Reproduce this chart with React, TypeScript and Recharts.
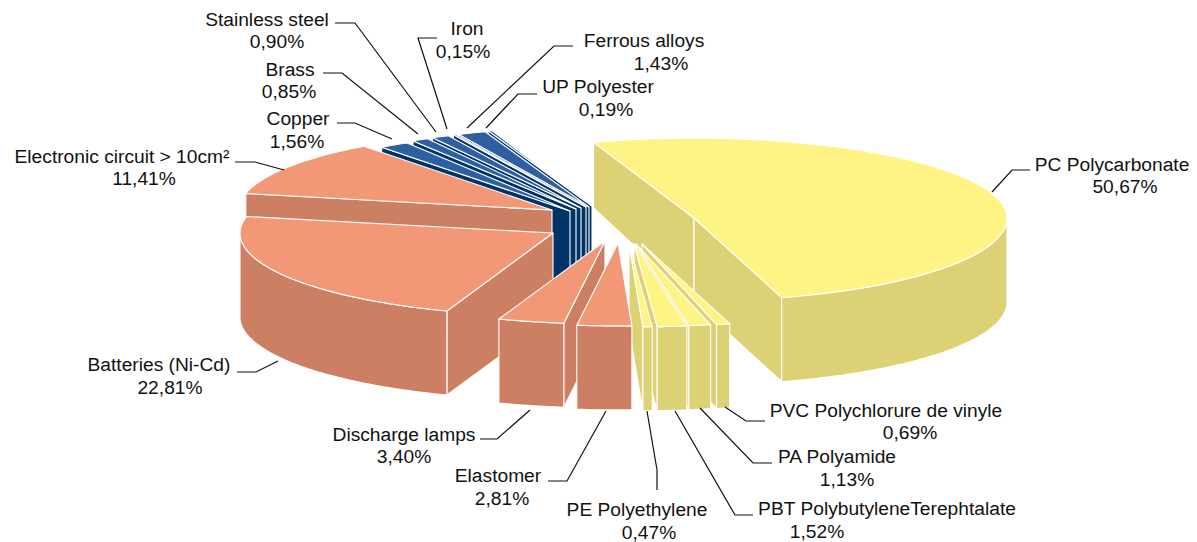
import React from 'react';
import { PieChart, Pie } from 'recharts';

const sliceNames = [
  'PC Polycarbonate', 'PVC Polychlorure de vinyle', 'PA Polyamide', 'PBT PolybutyleneTerephtalate',
  'PE Polyethylene', 'Elastomer', 'Discharge lamps', 'Batteries (Ni-Cd)', 'Electronic circuit > 10cm²',
  'Copper', 'Brass', 'Stainless steel', 'Iron', 'Ferrous alloys', 'UP Polyester',
];
const sliceValues = [50.67, 0.69, 1.13, 1.52, 0.47, 2.81, 3.4, 22.81, 11.41, 1.56, 0.85, 0.9, 0.15, 1.43, 0.19];
const sliceGroups = ['plastic', 'plastic', 'plastic', 'plastic', 'plastic', 'electro', 'electro', 'electro', 'electro', 'metal', 'metal', 'metal', 'metal', 'metal', 'metal'];

// back to front, svg has no z-index
const drawOrder = [14, 13, 12, 11, 10, 9, 0, 8, 7, 1, 2, 3, 4, 6, 5];

// how far each slice is pulled out of the pie
const explodeX = [104, 52, 46, 44, 39, 28, 15, -37, -38, -20, -14, -9, -4, -1, 2];
const explodeY = [-7, 19, 19, 19, 19, 18, 16, 8, -15, -14, -16, -17, -18, -18, -19];

const COLORS: Record<string, { top: string; wall: string }> = {
  plastic: { top: '#fff385', wall: '#dcd174' },
  electro: { top: '#f29877', wall: '#cc7f62' },
  metal: { top: '#2e5fa3', wall: '#003366' },
};

const TILT_BACK = 0.255;
const TILT_FRONT = 0.265;
// walls get shorter towards the back of the pie
const wallDepth = (y: number) => (y >= 220 ? 84 : 84 - (220 - y) * 0.24);

// text anchor x, baseline of both rows, leader points
const labelLayout = [
  { x: 1112, y: 171, x2: 1125, y2: 193, line: '1030,170 1012,170 992,192' },
  { x: 886, y: 417, x2: 910, y2: 439, line: '765,421 746,421 725,407' },
  { x: 837, y: 463, x2: 847, y2: 486, line: '772,463 753,463 700,408' },
  { x: 887, y: 515, x2: 817, y2: 538, line: '753,515 735,515 675,411' },
  { x: 637, y: 516, x2: 649, y2: 539, line: '657,490 657,470 647,411' },
  { x: 498, y: 482, x2: 502, y2: 505, line: '548,481 567,481 606,411' },
  { x: 404, y: 441, x2: 404, y2: 463, line: '480,439 497,439 530,410' },
  { x: 159, y: 371, x2: 170, y2: 394, line: '237,372 256,372 278,361' },
  { x: 122, y: 163, x2: 144, y2: 185, line: '235,162 255,162 284,170' },
  { x: 298, y: 125, x2: 297, y2: 148, line: '337,123 355,123 392,139' },
  { x: 290, y: 76, x2: 289, y2: 98, line: '323,73 342,73 418,134' },
  { x: 267, y: 26, x2: 277, y2: 48, line: '335,23 355,23 436,132' },
  { x: 467, y: 35, x2: 463, y2: 58, line: '437,38 418,38 447,129' },
  { x: 644, y: 47, x2: 661, y2: 70, line: '573,46 554,46 467,128' },
  { x: 598, y: 93, x2: 606, y2: 116, line: '537,94 518,94 486,128' },
];

const tableData = sliceNames.map((name, i) => ({ name, value: sliceValues[i], group: sliceGroups[i] }));

const toPath = (pts: number[][]) => 'M' + pts.map(p => p[0].toFixed(1) + ',' + p[1].toFixed(1)).join('L') + 'Z';
const dropped = (p: number[]) => [p[0], p[1] + wallDepth(p[1])];

const renderSlice = (target: number) => (props: any) => {
  const i = sliceNames.indexOf(props.name);
  if (i !== target) return <g />;
  const { cx, cy, outerRadius: r, startAngle, endAngle } = props;
  const ax = cx + explodeX[i];
  const ay = cy + explodeY[i];
  const apex = [ax, ay];
  const at = (deg: number) => {
    const a = (deg * Math.PI) / 180;
    const s = Math.sin(a);
    return [ax + r * Math.cos(a), ay - (s > 0 ? TILT_BACK : TILT_FRONT) * r * s];
  };
  const hi = Math.max(startAngle, endAngle);
  const lo = Math.min(startAngle, endAngle);
  const steps = Math.max(2, Math.ceil(hi - lo));
  const arc: number[] = [];
  for (let s = 0; s <= steps; s++) arc.push(hi - ((hi - lo) * s) / steps);
  const rim = arc.map(at);

  // only the front half of the rim can be seen, sin(a) < 0
  const front = arc.filter(d => Math.sin((d * Math.PI) / 180) <= 0);
  const frontRim = front.map(at);
  const wall = (p: number[]) => [apex, p, dropped(p), dropped(apex)];
  // a cut face shows only if it turns towards the viewer
  const showStart = Math.cos((hi * Math.PI) / 180) < 0;
  const showEnd = Math.cos((lo * Math.PI) / 180) > 0;
  const { top, wall: wallColor } = COLORS[sliceGroups[i]];
  const edge = { stroke: '#fff', strokeWidth: 1.1, strokeLinejoin: 'round' as const };

  return (
    <g>
      {showStart && <path d={toPath(wall(rim[0]))} fill={wallColor} {...edge} />}
      {showEnd && <path d={toPath(wall(rim[rim.length - 1]))} fill={wallColor} {...edge} />}
      {frontRim.length > 1 && (
        <path d={toPath([...frontRim, ...frontRim.map(dropped).reverse()])} fill={wallColor} {...edge} />
      )}
      <path d={toPath([apex, ...rim])} fill={top} {...edge} />
    </g>
  );
};

const renderLabel = (props: any) => {
  const i = sliceNames.indexOf(props.name);
  const l = labelLayout[i];
  const pct = sliceValues[i].toFixed(2).replace('.', ',') + '%';
  return (
    <g key={props.name}>
      <polyline points={l.line} fill="none" stroke="#111" strokeWidth={1.2} />
      <text x={l.x} y={l.y} textAnchor="middle" fontSize={19.2} fill="#111">{props.name}</text>
      <text x={l.x2} y={l.y2} textAnchor="middle" fontSize={19.2} fill="#111">{pct}</text>
    </g>
  );
};

export default function App() {
  return (
    <div style={{ position: 'absolute', left: 0, top: 0, fontFamily: '"Liberation Sans", Arial, sans-serif' }}>
      <PieChart width={1197} height={542} margin={{ top: 0, right: 0, bottom: 0, left: 0 }}>
        {drawOrder.map(sliceIdx => (
          <Pie
            key={sliceIdx}
            data={tableData}
            dataKey="value"
            nameKey="name"
            cx={590}
            cy={225}
            innerRadius={0}
            outerRadius={313}
            startAngle={108.7}
            endAngle={-251.3}
            stroke="none"
            isAnimationActive={false}
            shape={renderSlice(sliceIdx)}
          />
        ))}
        <Pie
          data={tableData}
          dataKey="value"
          nameKey="name"
          cx={590}
          cy={225}
          outerRadius={313}
          startAngle={108.7}
          endAngle={-251.3}
          fill="none"
          stroke="none"
          isAnimationActive={false}
          shape={() => <g />}
          label={renderLabel}
          labelLine={false}
        />
      </PieChart>
    </div>
  );
}
